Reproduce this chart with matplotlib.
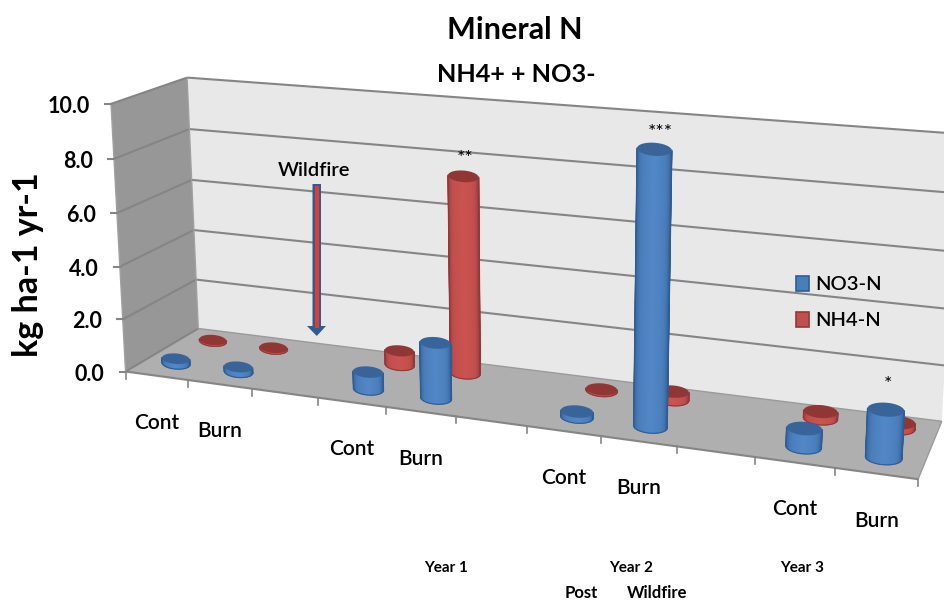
import numpy as np
import matplotlib
matplotlib.use("Agg")
import matplotlib.pyplot as plt
from matplotlib.colors import LinearSegmentedColormap

plt.rcParams['font.family'] = ['Lato', 'DejaVu Sans']

# Data, blank categories separate the years
categories = ['Cont', 'Burn', '', 'Cont', 'Burn', '', 'Cont', 'Burn', '', 'Cont', 'Burn']
no3_n = [0.2, 0.2, 0, 0.65, 2.05, 0, 0.2, 9.6, 0, 0.65, 1.65]
nh4_n = [0.05, 0.05, 0, 0.55, 7.4, 0, 0.05, 0.3, 0, 0.25, 0.2]
y_ticks = [0, 2, 4, 6, 8, 10]
stars = {4: '**', 7: '***', 10: '*'}

BLUE = ('#2f5c92', '#4a7ebb', '#5388c8', '#38649a')
RED = ('#93373a', '#c0504d', '#cb5350', '#903634')
NCAT = len(categories)
YMAX = y_ticks[-1]

# camera fit: (category, depth, value) -> picture pixel
anchors = [
    (0, 0, 0, 126, 372), (3, 0, 0, 318, 398), (6, 0, 0, 527, 426), (9, 0, 0, 755, 457),
    (11, 0, 0, 918, 479), (0, 0, 10, 111, 103), (0, 0, 4, 120, 267),
    (0, 1, 0, 198, 328), (11, 1, 0, 942, 421), (0, 1, 10, 187, 78),
    (0, 1, 4, 194, 230), (11, 1, 10, 957, 134), (11, 1, 4, 948, 309),
]
rows = []
for x, z, y, u, v in anchors:
    rows.append([x, z, y, 1, 0, 0, 0, 0, -u * x, -u * z, -u * y, -u])
    rows.append([0, 0, 0, 0, x, z, y, 1, -v * x, -v * z, -v * y, -v])
camera = np.linalg.svd(np.array(rows, dtype=float))[2][-1].reshape(3, 4)


def project(x, z, y):
    x, z, y = np.broadcast_arrays(x, z, y)
    p = camera @ np.array([x, z, y, np.ones_like(x)], dtype=float)
    return p[0] / p[2], p[1] / p[2]


def quad(ax, corners, color):
    px, py = project(*np.array(corners, dtype=float).T)
    ax.fill(px, py, color=color, lw=0, zorder=1)


def line3d(ax, a, b, color='#858585', lw=1.5):
    px, py = project(*np.array([a, b], dtype=float).T)
    ax.plot(px, py, color=color, lw=lw, solid_capstyle='butt', zorder=2)


def cylinder(ax, cat, z, value, colors, order, radius=0.225):
    cx = cat + 0.5
    dark, base, light, top = colors
    cmap = LinearSegmentedColormap.from_list('body', [dark, base, light, base, dark])
    ellipses = []
    for h in (0, value):
        px, py = project(cx, z, h)
        left, _ = project(cx - radius, z, h)
        ellipses.append((float(px), float(py), float(px - left)))
    (bx, by, brx), (tx, ty, trx) = ellipses
    t = np.linspace(np.pi, 0, 31)
    xb = bx + brx * np.cos(t)
    yb = by + brx * 0.38 * np.sin(t) + brx * np.cos(t) * 0.07
    xt = tx + trx * np.cos(t)
    yt = ty + trx * 0.38 * np.sin(t) + trx * np.cos(t) * 0.07
    shade = np.tile(np.arange(t.size) / (t.size - 1), (2, 1))
    ax.pcolormesh(np.array([xb, xt]), np.array([yb, yt]), shade, shading='gouraud',
                  cmap=cmap, vmin=0, vmax=1, zorder=order)
    # clean edges around the body
    ax.plot([xb[0], xt[0]], [yb[0], yt[0]], color=dark, lw=1, zorder=order + 0.1)
    ax.plot([xb[-1], xt[-1]], [yb[-1], yt[-1]], color=dark, lw=1, zorder=order + 0.1)
    ax.plot(xb, yb, color=dark, lw=0.8, zorder=order + 0.1)
    t = np.linspace(0, 2 * np.pi, 60)
    ax.fill(tx + trx * np.cos(t), ty + trx * 0.38 * np.sin(t) + trx * np.cos(t) * 0.07,
            color=top, lw=0, snap=False, zorder=order + 0.2)


fig = plt.figure(figsize=(9.44, 6.01), dpi=100)
ax = fig.add_axes([0, 0, 1, 1])
ax.set_xlim(0, 944)
ax.set_ylim(601, 0)
ax.axis('off')

# walls and floor
quad(ax, [(0, 1, 0), (NCAT, 1, 0), (NCAT, 1, YMAX), (0, 1, YMAX)], '#e8e8e8')
quad(ax, [(0, 0, 0), (0, 1, 0), (0, 1, YMAX), (0, 0, YMAX)], '#979797')
quad(ax, [(0, 0, 0), (NCAT, 0, 0), (NCAT, 1, 0), (0, 1, 0)], '#afafaf')

for tick in y_ticks[1:]:
    line3d(ax, (0, 1, tick), (NCAT, 1, tick))
    line3d(ax, (0, 0, tick), (0, 1, tick))
line3d(ax, (0, 0, 0), (NCAT, 0, 0))
line3d(ax, (0, 0, 0), (0, 1, 0))
line3d(ax, (0, 1, 0), (NCAT, 1, 0), color='#9a9a9a', lw=1)
line3d(ax, (NCAT, 0, 0), (NCAT, 1, 0), color='#9a9a9a', lw=1)
line3d(ax, (0, 0, 0), (0, 0, YMAX), color='#a0a0a0', lw=1)
line3d(ax, (0, 1, 0), (0, 1, YMAX), color='#a0a0a0', lw=1)

# axis ticks and value labels
for tick in y_ticks:
    px, py = project(0, 0, tick)
    ax.plot([px - 6, px], [py, py], color='#858585', lw=1.5)
    ax.text(px - 21, py + 2.5, f'{tick:.1f}', ha='right', va='center', fontsize=15.5, fontweight='bold')
for i in range(NCAT + 1):
    px, py = project(i, 0, 0)
    ax.plot([px, px], [py, py + 7], color='#858585', lw=1.2)
for i, name in enumerate(categories):
    px, py = project(i + 0.5, 0, 0)
    ax.text(px, py + 47, name, ha='center', va='center', fontsize=15, fontweight='semibold')

# cylinders, back row first
for i, v in enumerate(nh4_n):
    if categories[i]:
        cylinder(ax, i, 0.78, v, RED, order=3 + i)
for i, v in enumerate(no3_n):
    if categories[i]:
        cylinder(ax, i, 0.26, v, BLUE, order=20 + i)

# significance stars, placed by hand
ax.text(465, 159, stars[4], ha='center', va='center', fontsize=14, zorder=40)
ax.text(660, 133, stars[7], ha='center', va='center', fontsize=14, zorder=40)
ax.text(888, 384, stars[10], ha='center', va='center', fontsize=14, zorder=40)

# wildfire arrow
ax.fill([312.5, 321, 321, 326, 316.8, 307, 312.5], [184, 184, 326, 326, 336, 326, 326],
        color='#2f5c92', lw=0, zorder=40)
ax.fill([315.3, 319.3, 319.3, 315.3], [186, 186, 328, 328], color='#e63a30', lw=0, zorder=41)
ax.text(314, 170, 'Wildfire', ha='center', va='center', fontsize=14.5, fontweight='semibold', zorder=40)

# legend
for y0, col, edge, name in [(276, '#4a7ebb', '#2f5c92', 'NO3-N'), (312, '#c0504d', '#93373a', 'NH4-N')]:
    ax.fill([796, 809, 809, 796], [y0, y0, y0 + 15, y0 + 15], facecolor=col, edgecolor=edge, lw=1.2, zorder=40)
    ax.text(815, y0 + 9, name, ha='left', va='center', fontsize=14.5, fontweight='semibold', zorder=40)

# titles and notes
ax.text(515, 30, 'Mineral N', ha='center', va='center', fontsize=22, fontweight='bold')
ax.text(516, 74, 'NH4+ + NO3-', ha='center', va='center', fontsize=18.2, fontweight='bold')
ax.text(28, 265, 'kg ha-1 yr-1', rotation=90, ha='center', va='center', fontsize=24.5, fontweight='bold')
for x, y, s, size in [(446, 568, 'Year 1', 11), (631, 568, 'Year 2', 11), (802, 568, 'Year 3', 11),
                      (581, 593, 'Post', 12), (657, 593, 'Wildfire', 12)]:
    ax.text(x, y, s, ha='center', va='center', fontsize=size, fontweight='bold')

fig.savefig('out.png', dpi=100)
